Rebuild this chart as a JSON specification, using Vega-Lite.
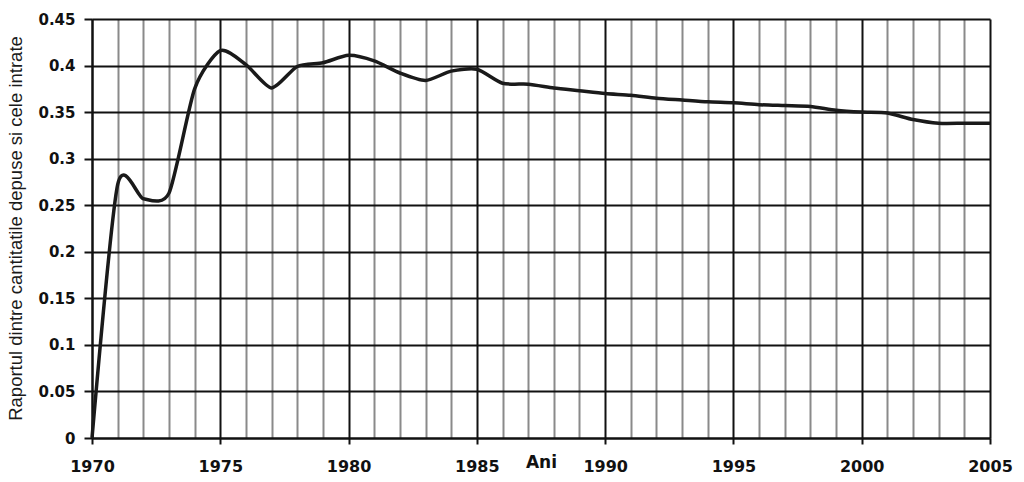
{
  "$schema": "https://vega.github.io/schema/vega-lite/v6.json",
  "width": 898,
  "height": 419,
  "autosize": {"type": "none"},
  "padding": {"left": 92, "top": 19, "right": 34, "bottom": 44},
  "background": "white",
  "config": {
    "view": {"stroke": null},
    "axis": {
      "labelFont": "DejaVu Sans",
      "labelFontWeight": "bold",
      "labelColor": "#111",
      "domainColor": "#111",
      "domainWidth": 2,
      "tickColor": "#111",
      "tickWidth": 2
    }
  },
  "data": {
    "values": [
      {"an": 1970, "raport": 0.0},
      {"an": 1971, "raport": 0.272},
      {"an": 1972, "raport": 0.257},
      {"an": 1973, "raport": 0.263},
      {"an": 1974, "raport": 0.375},
      {"an": 1975, "raport": 0.416},
      {"an": 1976, "raport": 0.401},
      {"an": 1977, "raport": 0.376},
      {"an": 1978, "raport": 0.399},
      {"an": 1979, "raport": 0.403},
      {"an": 1980, "raport": 0.411},
      {"an": 1981, "raport": 0.405},
      {"an": 1982, "raport": 0.392},
      {"an": 1983, "raport": 0.384},
      {"an": 1984, "raport": 0.394},
      {"an": 1985, "raport": 0.396},
      {"an": 1986, "raport": 0.381},
      {"an": 1987, "raport": 0.38},
      {"an": 1988, "raport": 0.376},
      {"an": 1989, "raport": 0.373},
      {"an": 1990, "raport": 0.37},
      {"an": 1991, "raport": 0.368},
      {"an": 1992, "raport": 0.365},
      {"an": 1993, "raport": 0.363},
      {"an": 1994, "raport": 0.361},
      {"an": 1995, "raport": 0.36},
      {"an": 1996, "raport": 0.358},
      {"an": 1997, "raport": 0.357},
      {"an": 1998, "raport": 0.356},
      {"an": 1999, "raport": 0.352},
      {"an": 2000, "raport": 0.35},
      {"an": 2001, "raport": 0.349},
      {"an": 2002, "raport": 0.342},
      {"an": 2003, "raport": 0.338},
      {"an": 2004, "raport": 0.338},
      {"an": 2005, "raport": 0.338}
    ]
  },
  "mark": {
    "type": "line",
    "interpolate": "cardinal",
    "tension": 0.3,
    "color": "#1a1a1a",
    "strokeWidth": 3.5
  },
  "encoding": {
    "x": {
      "field": "an",
      "type": "quantitative",
      "scale": {"domain": [1970, 2005], "nice": false, "zero": false},
      "axis": {
        "values": [1970, 1971, 1972, 1973, 1974, 1975, 1976, 1977, 1978, 1979, 1980, 1981, 1982, 1983, 1984, 1985, 1986, 1987, 1988, 1989, 1990, 1991, 1992, 1993, 1994, 1995, 1996, 1997, 1998, 1999, 2000, 2001, 2002, 2003, 2004, 2005],
        "format": "d",
        "labelExpr": "datum.value % 5 === 0 ? datum.label : ''",
        "labelFontSize": 16,
        "labelPadding": 14,
        "labelFlush": false,
        "labelBound": false,
        "labelOverlap": false,
        "tickSize": 6,
        "tickOpacity": {"condition": {"test": "datum.value % 5 === 0", "value": 1}, "value": 0},
        "grid": true,
        "gridColor": {"condition": {"test": "datum.value % 5 === 0", "value": "#111"}, "value": "#8a8a8a"},
        "gridWidth": 2,
        "gridOpacity": 1,
        "title": "Ani",
        "titleFont": "DejaVu Sans",
        "titleFontWeight": "bold",
        "titleFontSize": 17,
        "titleColor": "#111",
        "titleAlign": "center",
        "titleBaseline": "middle",
        "titleX": 449,
        "titleY": 24
      }
    },
    "y": {
      "field": "raport",
      "type": "quantitative",
      "scale": {"domain": [0, 0.45], "nice": false},
      "axis": {
        "values": [0, 0.05, 0.1, 0.15, 0.2, 0.25, 0.3, 0.35, 0.4, 0.45],
        "format": ".2~f",
        "labelFontSize": 15,
        "labelPadding": 9,
        "tickSize": 8,
        "grid": true,
        "gridColor": "#111",
        "gridWidth": 2,
        "gridOpacity": 1,
        "title": "Raportul dintre cantitatile depuse si cele intrate",
        "titleFont": "Liberation Sans",
        "titleFontWeight": "normal",
        "titleFontSize": 18.5,
        "titleColor": "#1a1a1a",
        "titleAngle": 270,
        "titleAlign": "center",
        "titleBaseline": "middle",
        "titleX": -77,
        "titleY": 209
      }
    }
  }
}
